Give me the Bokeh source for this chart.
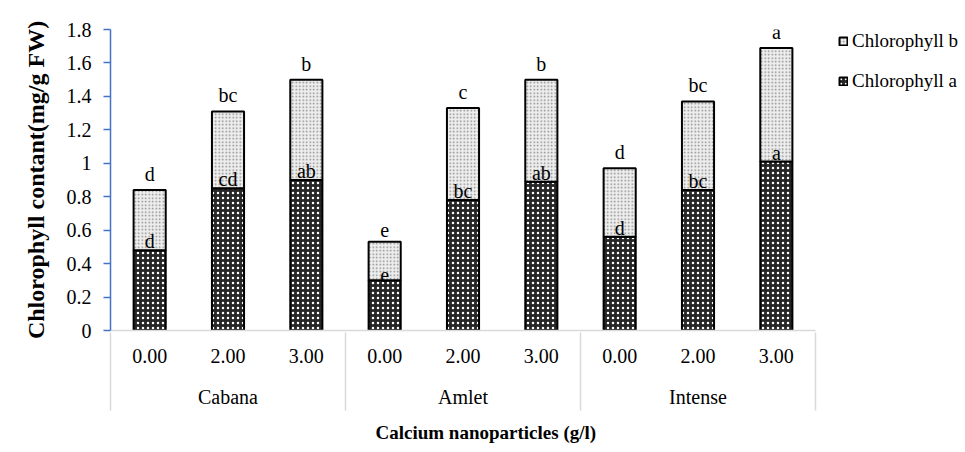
from bokeh.plotting import figure
from bokeh.models import (ColumnDataSource, Legend, LegendItem, FixedTicker,
                          LinearAxis, Range1d, Title)
from bokeh.core.properties import value
from bokeh.embed import file_html
from bokeh.resources import INLINE

cultivars = ["Cabana", "Amlet", "Intense"]
doses = ["0.00", "2.00", "3.00"]
chl_a = [0.48, 0.85, 0.90, 0.30, 0.78, 0.89, 0.56, 0.84, 1.01]
chl_total = [0.84, 1.31, 1.50, 0.53, 1.33, 1.50, 0.97, 1.37, 1.69]
chl_b = [round(t - a, 3) for t, a in zip(chl_total, chl_a)]
letters_a = ["d", "cd", "ab", "e", "bc", "ab", "d", "bc", "a"]
letters_b = ["d", "bc", "b", "e", "c", "b", "d", "bc", "a"]
y_ticks = [0, 0.2, 0.4, 0.6, 0.8, 1.0, 1.2, 1.4, 1.6, 1.8]
y_tick_labels = ["0", "0.2", "0.4", "0.6", "0.8", "1", "1.2", "1.4", "1.6", "1.8"]

FONT = "Liberation Serif"

# category slots: one unit per (cultivar, dose)
n_dose = len(doses)
n_cat = len(cultivars) * n_dose
x_pos = [i + 0.5 for i in range(n_cat)]
sub_labels = [d for c in cultivars for d in doses]
group_pos = [g * n_dose + n_dose / 2 for g in range(len(cultivars))]
group_bounds = [g * n_dose for g in range(len(cultivars) + 1)]

src = ColumnDataSource(dict(x=x_pos, a=chl_a, b=chl_b, total=chl_total,
                            la=letters_a, lb=letters_b))

# plot area 705 px for the 9 slots, extra room on the right keeps the legend
x_end = n_cat * 855 / 705
p = figure(x_range=Range1d(0, x_end), y_range=(0, 1.8), width=965, height=452,
           output_backend="svg", toolbar_location=None,
           min_border_left=110, min_border_top=29, min_border_right=0,
           min_border_bottom=122)
p.outline_line_color = None
p.xgrid.grid_line_color = None
p.ygrid.grid_line_color = None

rs = p.vbar_stack(["a", "b"], x="x", width=0.41, source=src,
                  fill_color=["#262626", "#eeeeee"],
                  hatch_pattern=["dot", "dot"],
                  hatch_color=["white", "#8a8a8a"],
                  hatch_scale=[5, 3.5], hatch_weight=[2.4, 0.9],
                  line_color="black", line_width=2)

p.text(x="x", y="a", text="la", source=src, text_font=value(FONT),
       text_font_size="20px", text_align="center", text_baseline="bottom",
       y_offset=2, text_color="black")
p.text(x="x", y="total", text="lb", source=src, text_font=value(FONT),
       text_font_size="20px", text_align="center", text_baseline="bottom",
       y_offset=-5, text_color="black")

# y axis
ya = p.yaxis[0]
ya.ticker = FixedTicker(ticks=y_ticks, minor_ticks=[])
ya.major_label_overrides = {t: l for t, l in zip(y_ticks, y_tick_labels)}
ya.axis_line_color = "#4472C4"
ya.axis_line_width = 1.5
ya.major_tick_line_color = "#4472C4"
ya.major_tick_line_width = 1.5
ya.major_tick_out = 7
ya.major_tick_in = 0
ya.minor_tick_line_color = None
ya.major_label_standoff = 12
ya.major_label_text_font = FONT
ya.major_label_text_font_size = "20px"
ya.major_label_text_color = "black"
ya.axis_label = "Chlorophyll contant(mg/g FW)"
ya.axis_label_text_font = FONT
ya.axis_label_text_font_size = "24px"
ya.axis_label_text_font_style = "bold"
ya.axis_label_text_color = "black"
ya.axis_label_standoff = 15

# x axis 1: dose labels
xa = p.xaxis[0]
xa.ticker = FixedTicker(ticks=x_pos, minor_ticks=[])
xa.major_label_overrides = {t: l for t, l in zip(x_pos, sub_labels)}
xa.bounds = (0, n_cat)
xa.axis_line_color = "#d9d9d9"
xa.axis_line_width = 1.5
xa.major_tick_line_color = None
xa.minor_tick_line_color = None
xa.major_tick_out = 0
xa.major_tick_in = 0
xa.minor_tick_out = 0
xa.minor_tick_in = 0
xa.major_label_text_font = FONT
xa.major_label_text_font_size = "20px"
xa.major_label_text_color = "black"
xa.major_label_standoff = 18

# x axis 2: cultivar labels
xg = LinearAxis(ticker=FixedTicker(ticks=group_pos, minor_ticks=[]))
xg.major_label_overrides = {t: l for t, l in zip(group_pos, cultivars)}
xg.axis_line_color = None
xg.major_tick_line_color = None
xg.minor_tick_line_color = None
xg.major_tick_out = 0
xg.major_tick_in = 0
xg.minor_tick_out = 0
xg.minor_tick_in = 0
xg.major_label_text_font = FONT
xg.major_label_text_font_size = "20px"
xg.major_label_text_color = "black"
xg.major_label_standoff = 20
p.add_layout(xg, "below")

# x axis 3: group separators (ticks reaching up to the plot area)
xs = LinearAxis(ticker=FixedTicker(ticks=[], minor_ticks=group_bounds))
xs.axis_line_color = None
xs.major_tick_line_color = None
xs.major_tick_out = 0
xs.major_tick_in = 0
xs.minor_tick_line_color = "#d9d9d9"
xs.minor_tick_line_width = 1.5
xs.minor_tick_in = 78
xs.minor_tick_out = 0
xs.major_label_standoff = 0
p.add_layout(xs, "below")

# axis title, placed below the category labels
xtitle = Title(text="Calcium nanoparticles (g/l)", align="left", offset=265,
               text_font=FONT, text_font_size="19px", text_font_style="bold",
               text_color="black", standoff=18)
p.add_layout(xtitle, "below")

legend = Legend(items=[LegendItem(label="Chlorophyll b", renderers=[rs[1]]),
                       LegendItem(label="Chlorophyll a", renderers=[rs[0]])],
                location=(728, 238), orientation="vertical",
                glyph_width=10, glyph_height=10, label_standoff=4,
                label_height=20, spacing=18, padding=0, margin=0,
                border_line_color=None, background_fill_color=None,
                label_text_font=FONT, label_text_font_size="19px",
                label_text_color="black")
p.add_layout(legend)

open("out.html", "w").write(file_html(p, INLINE))
